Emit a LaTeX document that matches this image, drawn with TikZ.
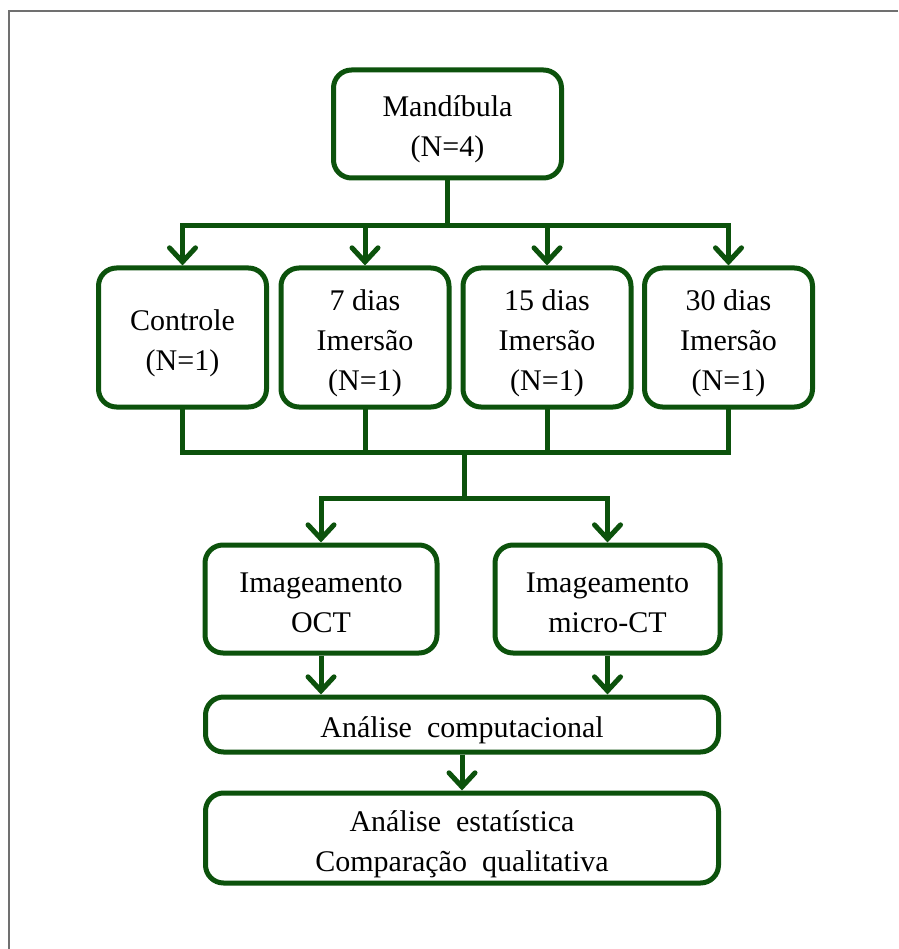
\documentclass[tikz,border=0pt]{standalone}
\usepackage{fontspec}
\setmainfont{Liberation Serif}
\usetikzlibrary{arrows.meta}
\definecolor{flowgreen}{RGB}{12,82,12}
\definecolor{framegray}{RGB}{112,112,112}
% centred lines, set a little low in their box
\newcommand\boxlines[1]{\raisebox{-5pt}[\height][\depth]{\begin{tabular}{@{}c@{}}#1\end{tabular}}}
\begin{document}
\begin{tikzpicture}[x=1pt,y=-1pt,
  box/.style={draw=flowgreen, line width=5pt, rounded corners=18pt, fill=white,
    inner sep=0pt, text=black,
    font=\fontsize{30}{40}\selectfont},
  link/.style={draw=flowgreen, line width=5pt, line cap=rect},
  arr/.style={draw=flowgreen, line width=5pt,
    -{Straight Barb[length=14pt,width=26pt,line cap=round]}}]
\useasboundingbox (0,0) rectangle (898,949);
% page frame (top and left rules only)
\draw[framegray, line width=2pt] (898,11) -- (9,11) -- (9,949);

% boxes
\node[box, minimum width=228pt, minimum height=108pt] (top) at (447.5,124) {\boxlines{Mandíbula\\(N=4)}};
\node[box, minimum width=168pt, minimum height=139pt] (c0) at (182.5,337.5) {\boxlines{Controle\\(N=1)}};
\node[box, minimum width=168pt, minimum height=139pt] (c1) at (365,337.5) {\boxlines{7 dias\\Imersão\\(N=1)}};
\node[box, minimum width=168pt, minimum height=139pt] (c2) at (547,337.5) {\boxlines{15 dias\\Imersão\\(N=1)}};
\node[box, minimum width=168pt, minimum height=139pt] (c3) at (728.5,337.5) {\boxlines{30 dias\\Imersão\\(N=1)}};
\node[box, minimum width=232pt, minimum height=108pt] (oct) at (321,599) {\boxlines{Imageamento\\OCT}};
\node[box, minimum width=225pt, minimum height=108pt] (mct) at (607.5,599) {\boxlines{Imageamento\\micro-CT}};
\node[box, minimum width=513pt, minimum height=55pt] (comp) at (462,724.5) {\boxlines{Análise\ \ computacional}};
\node[box, minimum width=513pt, minimum height=90pt] (estat) at (462,838) {\boxlines{Análise\ \ estatística\\Comparação\ \ qualitativa}};

% junction points
\path (top.south) ++(0,45) coordinate (j1);
\coordinate (j2) at (464,452);
\coordinate (j3) at (464,498);

% split to the four groups
\draw[link] (top.south) -- (j1);
\draw[link] (c0.north |- j1) -- (c3.north |- j1);
\foreach \n in {c0,c1,c2,c3}
  \draw[arr] (\n.north |- j1) -- (\n.north);

% merge of the groups
\foreach \n in {c0,c1,c2,c3}
  \draw[link] (\n.south) -- (\n.south |- j2);
\draw[link] (c0.south |- j2) -- (c3.south |- j2);
\draw[link] (j2) -- (j3);

% split to the two imaging methods
\draw[link] (oct.north |- j3) -- (mct.north |- j3);
\draw[arr] (oct.north |- j3) -- (oct.north);
\draw[arr] (mct.north |- j3) -- (mct.north);

% analysis chain
\draw[arr] (oct.south) -- (oct.south |- comp.north);
\draw[arr] (mct.south) -- (mct.south |- comp.north);
\draw[arr] (comp.south) -- (estat.north);
\end{tikzpicture}
\end{document}
